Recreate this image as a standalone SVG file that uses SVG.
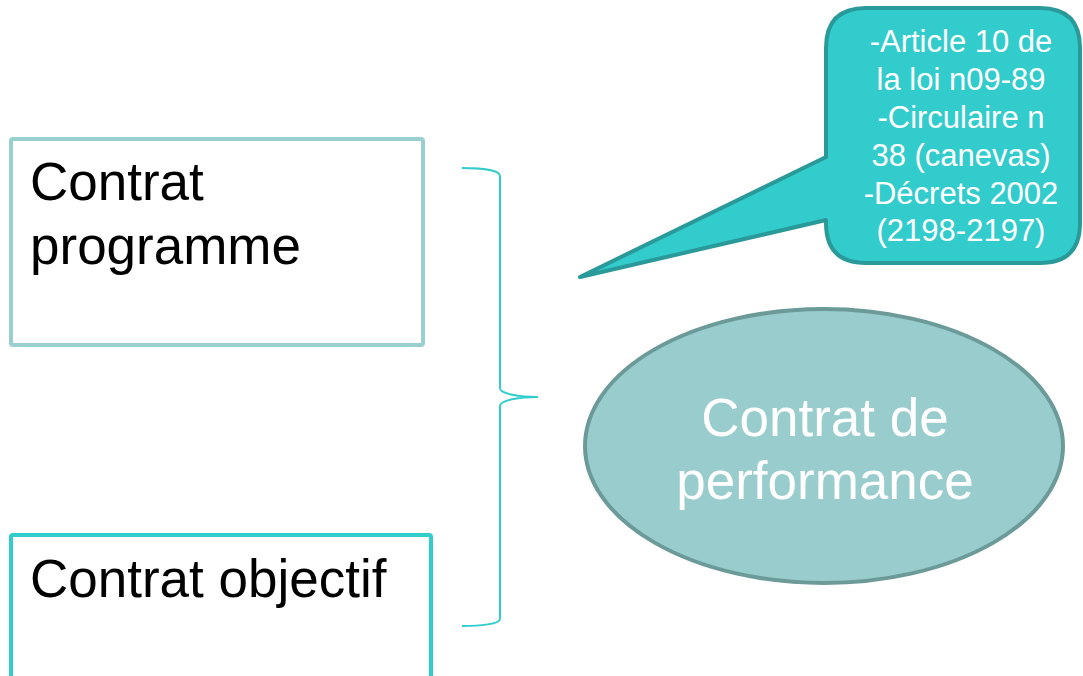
<svg xmlns="http://www.w3.org/2000/svg" width="1083" height="676" viewBox="0 0 1083 676">
<style>
.lbl{font-family:"Liberation Sans",Arial,sans-serif;font-size:53px;fill:#000}
.wl{font-family:"Liberation Sans",Arial,sans-serif;font-size:53px;fill:#fff;text-anchor:middle}
.cl{font-family:"Liberation Sans",Arial,sans-serif;font-size:31px;fill:#fff;text-anchor:middle}
</style>
<rect width="1083" height="676" fill="#fff"/>
<g id="contrat-programme">
<rect x="11" y="139" width="412" height="206" rx="2" fill="#fff" stroke="#9ACFD0" stroke-width="4"/>
<text class="lbl" x="30" y="200">Contrat</text>
<text class="lbl" x="30" y="264">programme</text>
</g>
<g id="contrat-objectif">
<rect x="11" y="535" width="420" height="160" rx="2" fill="#fff" stroke="#33CCCC" stroke-width="4"/>
<text class="lbl" x="30" y="597">Contrat objectif</text>
</g>
<g id="connectors">
<path d="M462,168 C480,168 500,170 500,176 L500,388 C500,394 520,397 538,397 C520,397 500,400 500,406 L500,619 C500,624 480,626 462,626" fill="none" stroke="#33CCCC" stroke-width="2"/>
</g>
<g id="contrat-performance">
<ellipse cx="824" cy="446" rx="239" ry="137" fill="#99CCCC" stroke="#6B9A99" stroke-width="4"/>
<text class="wl" x="825" y="436">Contrat de</text>
<text class="wl" x="825" y="499">performance</text>
</g>
<g id="callout">
<path d="M866,8 L1040,8 Q1080,8 1080,48 L1080,223 Q1080,263 1040,263 L866,263 Q826,263 826,223 L826,220 L580,277 L826,157 L826,48 Q826,8 866,8 Z" fill="#33CCCC" stroke="#2A9999" stroke-width="4" stroke-linejoin="round"/>
<text class="cl" x="961" y="52">-Article 10 de</text>
<text class="cl" x="961" y="90">la loi n09-89</text>
<text class="cl" x="961" y="128">-Circulaire n</text>
<text class="cl" x="961" y="166">38 (canevas)</text>
<text class="cl" x="961" y="204">-Décrets 2002</text>
<text class="cl" x="961" y="241">(2198-2197)</text>
</g>
</svg>
